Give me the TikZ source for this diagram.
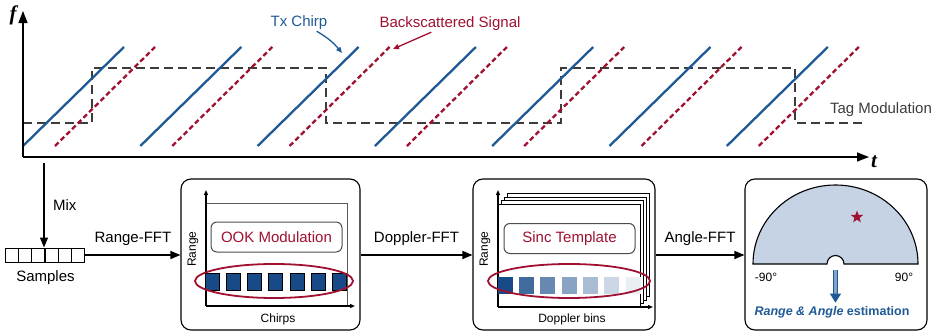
\documentclass[tikz,border=0pt]{standalone}
\usepackage{fontspec}
\setmainfont{Liberation Sans}
\newfontfamily\timesfont{Liberation Serif}
\usepackage{tikz}
\usetikzlibrary{arrows.meta, positioning, shapes.geometric}
\usepackage{xcolor}

\definecolor{txblue}{RGB}{31,90,150}
\definecolor{bsred}{RGB}{160,16,48}
\definecolor{taggray}{RGB}{60,60,60}
\definecolor{cellblue}{RGB}{24,74,135}
\definecolor{fanfill}{RGB}{197,211,228}
\newcommand{\bigsz}{\fontsize{15}{18}\selectfont}
\newcommand{\smallsz}{\fontsize{12}{14}\selectfont}

\begin{document}
\begin{tikzpicture}[x=1pt, y=1pt, >={Triangle[length=10pt, width=8pt]}]
    \tikzstyle{txchirp} = [txblue, line width=2.3pt]
    \tikzstyle{bschirp} = [bsred, line width=2.3pt, dash pattern=on 5pt off 3pt]
    \tikzstyle{tagline} = [taggray, line width=2.4pt, dash pattern=on 9pt off 5pt]
    \tikzstyle{stage} = [draw, rounded corners=10pt, line width=1.1pt, minimum height=151pt]
    \tikzstyle{flow} = [->, line width=1.4pt]
    \tikzstyle{cell} = [draw, line width=1pt, minimum width=13.3pt, minimum height=14pt, inner sep=0pt]
    \tikzstyle{bin} = [draw, line width=1pt, fill=cellblue, minimum width=14pt, minimum height=17pt, inner sep=0pt]
    \tikzstyle{tag} = [draw=black!70, rounded corners=6pt, line width=1pt, minimum width=131pt, minimum height=30pt, text=bsred, font=\bigsz]
    \tikzstyle{pick} = [draw=bsred, line width=1.8pt, ellipse, inner sep=0pt, minimum height=34pt]
    \tikzstyle{axis} = [->, line width=1.2pt, >={Triangle[length=5pt, width=4pt]}]
    \useasboundingbox (0,0) rectangle (940,333);

    % chirp plot
    \draw[tagline] (23,210) -- (92,210) -- (92,265) -- (326,265) -- (326,210)
        -- (561,210) -- (561,265) -- (795,265) -- (795,210) -- (863,210);
    \foreach \k in {0,...,6} {
        \draw[bschirp] (55+117.3*\k,187) -- ++(100,99);
        \draw[txchirp] (23+117.3*\k,187) -- ++(101,99);
    }
    \draw[->, line width=1.5pt, >={Triangle[length=12pt, width=9pt]}] (23,176) -- (23,322);
    \draw[->, line width=1.5pt, >={Triangle[length=12pt, width=9pt]}] (23,176) -- (869,176);
    \node[font=\fontsize{21}{22}\selectfont\timesfont\bfseries\itshape] (flabel) at (13,318) {f};
    \node[font=\fontsize{21}{22}\selectfont\timesfont\bfseries\itshape] (tlabel) at (874,171) {t};
    \node[txblue, font=\bigsz, inner sep=1pt] (txlabel) at (299,310) {Tx Chirp};
    \node[bsred, font=\bigsz, inner sep=1pt] (bslabel) at (450,309) {Backscattered Signal};
    \node[taggray, font=\bigsz] (taglabel) at (881,223) {Tag Modulation};
    \coordinate (txend) at (342,280);
    \coordinate (bsend) at (393,284);
    \draw[->, txblue, line width=1.3pt, >={Triangle[length=6pt, width=5pt]}] (txlabel) to[bend left=10] (txend);
    \draw[->, bsred, line width=1.3pt, >={Triangle[length=6pt, width=5pt]}] (bslabel) -- (bsend);

    % samples
    \coordinate (mixtop) at (44,170);
    \foreach \i in {1,...,6}
        \node[cell] (s\i) at (-1.67+13.33*\i,78) {};
    \node[font=\bigsz, below=5pt of s3.south east] (samplabel) {Samples};
    \draw[flow] (mixtop) -- node[midway, right=5pt, font=\bigsz] (mixlabel) {Mix} (mixtop |- s3.north);

    % range-doppler stages
    \node[stage, minimum width=179pt] (rangebox) at (270.5,78.5) {};
    \node[stage, minimum width=182pt] (dopbox) at (564,78.5) {};
    \node[stage, minimum width=182pt] (anglebox) at (836,78.5) {};
    \draw[flow] (s6.east) -- node[midway, above=5pt, font=\bigsz] (rfftlabel) {Range-FFT} (rangebox.west |- s6.east);
    \draw[flow] (rangebox.east |- s6.east) -- node[midway, above=5pt, font=\bigsz] (dfftlabel) {Doppler-FFT} (dopbox.west |- s6.east);
    \draw[flow] (dopbox.east |- s6.east) -- node[midway, above=5pt, font=\bigsz] (afftlabel) {Angle-FFT} (anglebox.west |- s6.east);

    % range map
    \draw[black!65, line width=0.8pt] (206,130) -- (347,130) -- (347,27);
    \draw[axis] (206,27) -- (206,143);
    \draw[axis] (206,27) -- (355,27);
    \node[tag] (ookbox) at (276.5,96) {OOK Modulation};
    \foreach \i in {1,...,7}
        \node[bin] (ook\i) at (191+21.2*\i,51.5) {};
    \node[pick, minimum width=158pt] (ookpick) at (274,52) {};
    \node[rotate=90, font=\smallsz] (rangea) at (193,84) {Range};
    \node[font=\smallsz] (chirpslabel) at (278,14) {Chirps};

    % doppler maps
    \foreach \k in {3,2,1}
        \draw[fill=white, line width=0.9pt] (498+3.3*\k,26+3.5*\k) rectangle ++(142,103);
    \draw[fill=white, line width=0.9pt] (498,26) rectangle (640,129);
    \draw[axis] (498,26) -- (498,143);
    \draw[axis] (498,26) -- (653,26);
    \node[tag] (sincbox) at (569.5,94.5) {Sinc Template};
    \foreach \i/\shade in {1/100, 2/82, 3/66, 4/51, 5/37, 6/22, 7/9}
        \node[bin, draw=none, fill=cellblue!\shade, minimum width=15pt] (sinc\i) at (484+21.3*\i,48) {};
    \node[pick, minimum width=162pt] (sincpick) at (569,52) {};
    \node[rotate=90, font=\smallsz] (rangeb) at (485,84) {Range};
    \node[font=\smallsz] (binslabel) at (572,14) {Doppler bins};

    % angle fan
    \draw[fill=fanfill, line width=1.1pt] (753,69) arc[start angle=180, end angle=0, x radius=82.5, y radius=79]
        -- (844,69) arc[start angle=0, end angle=180, radius=8.5] -- cycle;
    \node[star, star points=5, star point ratio=2.4, fill=bsred, minimum size=13pt, inner sep=0pt] (target) at (857,116) {};
    \node[font=\smallsz] (minuslabel) at (766,56) {-90°};
    \node[font=\smallsz] (pluslabel) at (904,56) {90°};
    \node[txblue, font=\fontsize{12.5}{14}\selectfont\bfseries] (est) at (832,21) {{\itshape Range \& Angle} estimation};
    \coordinate (notch) at (835.5,63);
    \draw[draw=txblue, line width=0.9pt, double=txblue!55, double distance=2.4pt,
        -{Triangle[length=9pt, width=11pt]}] (notch) -- (notch |- est.north);
\end{tikzpicture}
\end{document}
